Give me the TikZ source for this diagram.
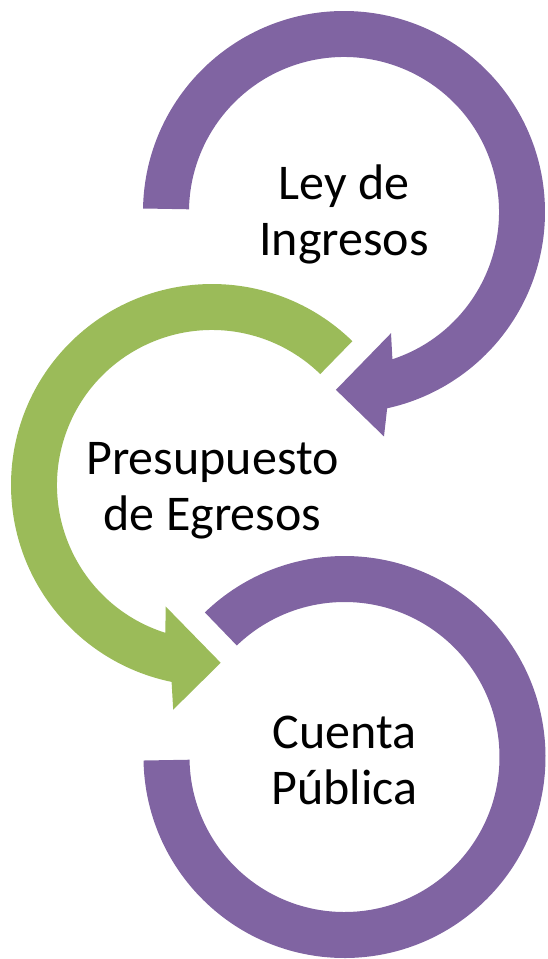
\documentclass[tikz,border=0pt]{standalone}
\usepackage{fontspec}
\setmainfont{Carlito}
\definecolor{arcpurple}{HTML}{8064A2}
\definecolor{arcgreen}{HTML}{9BBB59}
\begin{document}
\begin{tikzpicture}[x=1pt,y=1pt,
  label/.style={align=center,inner sep=0pt,font=\fontsize{50}{56}\selectfont}]
\useasboundingbox (0,0) rectangle (547,-959);
% top arc (Ley de Ingresos)
\begin{scope}[shift={(344,-212)}]
  \fill[arcpurple] (179:201) arc[start angle=179, end angle=-77.6, radius=201]
    -- (-79.9:228) -- (-92.6:178) -- (-68.8:130) -- (-71.8:155)
    arc[start angle=-71.8, end angle=179, radius=155] -- cycle;
\end{scope}
% middle arc (Presupuesto de Egresos)
\begin{scope}[shift={(212,-485)}]
  \fill[arcgreen] (45.7:201) arc[start angle=45.7, end angle=258.4, radius=201]
    -- (260.2:228) -- (272.8:178) -- (249.1:130) -- (252.5:155)
    arc[start angle=252.5, end angle=45.7, radius=155] -- cycle;
\end{scope}
% bottom arc (Cuenta Publica)
\begin{scope}[shift={(344.5,-757)}]
  \fill[arcpurple] (134:201) arc[start angle=134, end angle=-179, radius=201]
    -- (-179:155) arc[start angle=-179, end angle=134, radius=155] -- cycle;
\end{scope}
\node[label] (ley) at (344,-214.5) {Ley de\\Ingresos};
\node[label] (pre) at (212.5,-490.5) {Presupuesto\\de Egresos};
\node[label] (cta) at (344.5,-760) {Cuenta\\Pública};
\end{tikzpicture}
\end{document}
